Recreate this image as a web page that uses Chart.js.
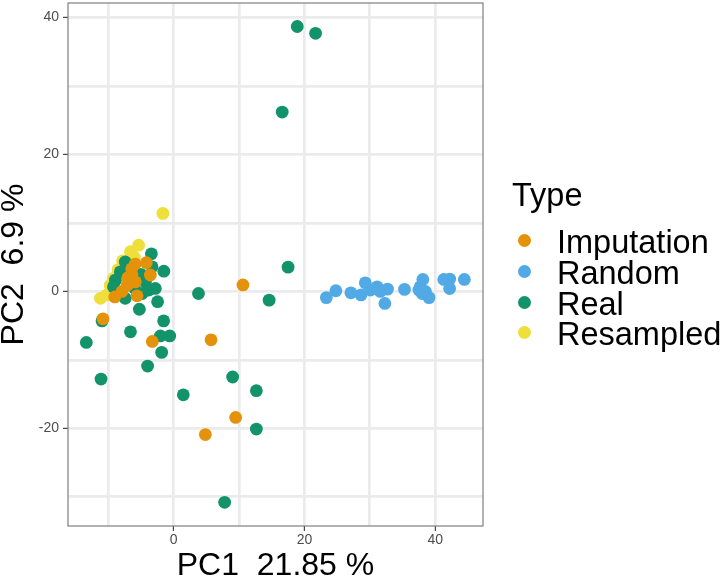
<!DOCTYPE html>
<html>
<head>
<meta charset="utf-8">
<script src="https://cdn.jsdelivr.net/npm/chart.js@4.4.1/dist/chart.umd.min.js"></script>
<style>
  html, body { margin: 0; padding: 0; background: #fff; }
  #wrap { position: relative; width: 724px; height: 580px; }
  #legend { position: absolute; left: 0; top: 0; font-family: "Liberation Sans", Arial, sans-serif; color: #000; }
  #legend .title { position: absolute; left: 512px; font-size: 32.5px; line-height: 32px; white-space: nowrap; }
  #legend .item { position: absolute; left: 518px; height: 31px; font-size: 32.5px; line-height: 31px; white-space: nowrap; }
  #legend .dot { position: absolute; left: 0; top: 7px; width: 13px; height: 13px; border-radius: 50%; }
  #legend .label { position: absolute; left: 39px; top: 0; }
</style>
</head>
<body>
<div id="wrap">
  <canvas id="pca" width="724" height="580"></canvas>
  <div id="legend"></div>
</div>
<script>
'use strict';

// ---- data ----
const TYPES  = ['Imputation', 'Random', 'Real', 'Resampled'];
const COLORS = ['#E4920A', '#51AAE6', '#12936A', '#EEDF3A'];

const imputationX = [-10.8, -3.26, 5.72, 9.48, 4.85, 10.6, -4.17, -5.86, -3.56, -6.37, -5.86, -7.1, -7.9, -9.0, -5.6, -6.4, -7.0];
const imputationY = [-4.0, -7.3, -7.07, -18.4, -20.9, 0.95, 4.2, 4.0, 2.4, 2.4, 1.4, 0.9, 0.0, -0.8, -0.64, 3.3, 2.0];

const randomX = [23.35, 24.8, 27.1, 28.65, 29.3, 30.1, 31.1, 31.6, 32.7, 32.3, 35.3, 38.1, 37.5, 38.0, 38.5, 39.05, 37.7, 41.3, 42.2, 42.2, 44.45];
const randomY = [-0.9, 0.1, -0.2, -0.5, 1.26, 0.2, 0.67, 0.0, 0.34, -1.75, 0.3, 1.75, 0.2, -0.3, 0.0, -0.9, 0.67, 1.75, 1.8, 0.43, 1.75];

const realX = [-13.35, -11.1, -10.95, -6.6, -5.24, -2.45, -1.53, -2.03, -0.6, -1.83, -3.98, 1.48, 9.02, 12.65, 12.65, 7.8, 14.6,
               18.9, 21.7, 16.6, 17.5, 3.8, -3.4, -1.5, -7.4, -8.15, -8.9, -9.2, -3.3, -2.8, -7.4, -4.3, -3.8, -6.4, -5.0, -6.0, -4.8, -8.0];
const realY = [-7.45, -12.8, -4.3, -5.9, -2.6, -1.5, -4.3, -6.5, -6.5, -8.9, -10.9, -15.1, -12.5, -14.5, -20.1, -30.8, -1.27,
               38.7, 37.7, 26.2, 3.55, -0.3, 5.5, 2.96, 4.3, 2.86, 1.65, 0.67, 3.6, 0.44, -1.0, 1.4, 0.2, 3.1, 2.5, 0.5, -0.3, -0.3];

const resampledX = [-1.65, -5.35, -6.6, -7.8, -8.5, -9.2, -9.7, -11.2, -10.2, -6.0, -7.0];
const resampledY = [11.4, 6.76, 5.8, 4.47, 3.2, 1.9, 0.9, -1.0, -0.5, 5.0, 3.8];

const X_RANGE = [-16.15, 47.3];
const Y_RANGE = [-34.26, 42.13];
const X_TITLE = 'PC1  21.85 %';
const Y_TITLE = 'PC2  6.9 %';
const LEGEND_TITLE = 'Type';

const FONT = '"Liberation Sans", Arial, sans-serif';
const seriesX = [imputationX, randomX, realX, resampledX];
const seriesY = [imputationY, randomY, realY, resampledY];

function toPoints(xs, ys) {
  return xs.map((x, i) => ({ x, y: ys[i] }));
}

// ggplot-like full panel border, drawn over the points
const panelBorder = {
  id: 'panelBorder',
  afterDatasetsDraw(chart) {
    const { ctx, chartArea: a } = chart;
    ctx.save();
    ctx.strokeStyle = '#7f7f7f';
    ctx.lineWidth = 1.2;
    ctx.strokeRect(a.left, a.top, a.right - a.left, a.bottom - a.top);
    ctx.restore();
  }
};

const majorOnly = (v) => (v % 20 === 0 ? v : '');
const tickColor = (c) => (c.tick && c.tick.value % 20 === 0 ? '#333333' : 'rgba(0,0,0,0)');

const chart = new Chart(document.getElementById('pca'), {
  type: 'scatter',
  data: {
    datasets: TYPES.map((t, i) => ({
      label: t,
      data: toPoints(seriesX[i], seriesY[i]),
      backgroundColor: COLORS[i],
      borderWidth: 0,
      pointRadius: 6.4,
      pointHoverRadius: 6.4
    }))
  },
  options: {
    responsive: false,
    animation: false,
    layout: { autoPadding: false, padding: { top: 3, right: 241, bottom: 0, left: 0 } },
    plugins: { legend: { display: false }, tooltip: { enabled: false } },
    scales: {
      x: {
        type: 'linear', min: X_RANGE[0], max: X_RANGE[1],
        afterFit: (s) => { s.height = 54; s.paddingLeft = 0; s.paddingRight = 0; },
        border: { display: false },
        grid: { color: '#ebebeb', lineWidth: 2.7, tickLength: 5, tickColor, tickWidth: 1.1 },
        ticks: { stepSize: 10, includeBounds: false, autoSkip: false, maxRotation: 0, padding: 1,
                 color: '#4d4d4d', font: { family: FONT, size: 14 }, callback: majorOnly },
        title: { display: true, text: X_TITLE, color: '#000', padding: 0,
                 font: { family: FONT, size: 32, lineHeight: 0.86 } }
      },
      y: {
        type: 'linear', min: Y_RANGE[0], max: Y_RANGE[1],
        afterFit: (s) => { s.width = 68; s.paddingTop = 0; s.paddingBottom = 0; },
        border: { display: false },
        grid: { color: '#ebebeb', lineWidth: 2.7, tickLength: 5, tickColor, tickWidth: 1.1 },
        ticks: { stepSize: 10, includeBounds: false, autoSkip: false, padding: 4,
                 color: '#4d4d4d', font: { family: FONT, size: 14 }, callback: majorOnly },
        title: { display: true, text: Y_TITLE, color: '#000', padding: 0,
                 font: { family: FONT, size: 32, lineHeight: 0.9 } }
      }
    }
  },
  plugins: [panelBorder]
});

// HTML legend built from the chart datasets
(function buildLegend() {
  const box = document.getElementById('legend');
  const title = document.createElement('div');
  title.className = 'title';
  title.style.top = '179px';
  title.textContent = LEGEND_TITLE;
  box.appendChild(title);
  chart.data.datasets.forEach((ds, i) => {
    const row = document.createElement('div');
    row.className = 'item';
    row.style.top = (227 + i * 30.8) + 'px';
    const dot = document.createElement('span');
    dot.className = 'dot';
    dot.style.background = ds.backgroundColor;
    const lab = document.createElement('span');
    lab.className = 'label';
    lab.textContent = ds.label;
    row.appendChild(dot);
    row.appendChild(lab);
    box.appendChild(row);
  });
})();
</script>
</body>
</html>
